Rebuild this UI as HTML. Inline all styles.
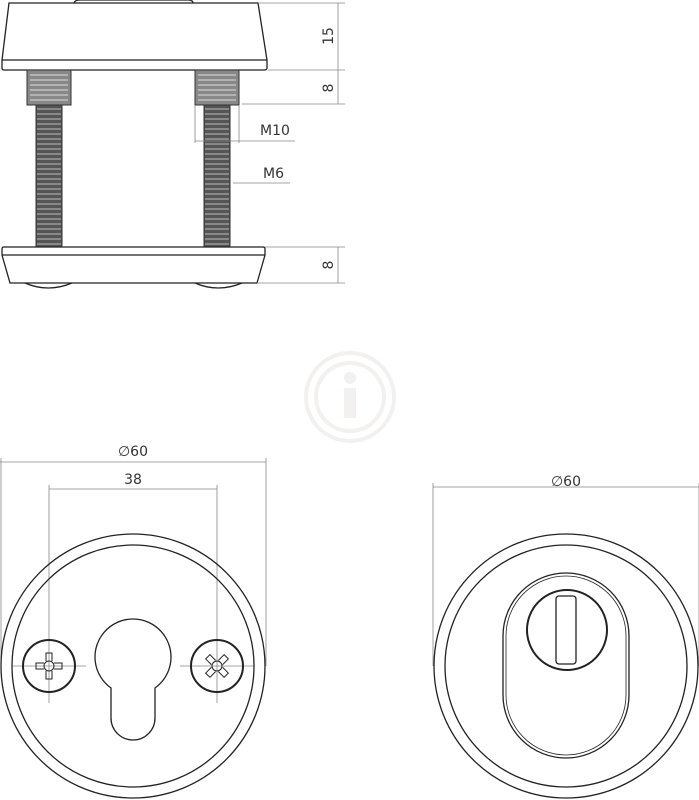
<!DOCTYPE html>
<html><head><style>body{margin:0;background:#fff}svg{display:block}text{font-family:"DejaVu Sans","Liberation Sans",sans-serif;fill:#333;stroke:none;font-size:14px}</style></head><body>
<svg width="699" height="800" viewBox="0 0 699 800" xmlns="http://www.w3.org/2000/svg" fill="none" stroke="#222" stroke-width="1.3">
<!-- watermark -->
<g stroke="#f3f0f0" stroke-width="4"><circle cx="350" cy="397" r="44"/><circle cx="350" cy="397" r="34"/></g>
<g fill="#f3f0f0" stroke="none"><circle cx="350" cy="378" r="6"/><rect x="344" y="388" width="12" height="30"/></g>
<!-- top plate -->
<path d="M74,3 Q75,0 80,0 L188,0 Q193,0 193,3"/>
<path d="M9,3 L258,3 L267,60 L267,68 Q267,70 264,70 L4,70 Q2,70 2,68 L2,60 Z"/>
<line x1="2" y1="60" x2="267" y2="60"/>
<!-- threads -->
<g stroke="#333" stroke-width="1">
<rect x="27" y="70" width="44" height="35" fill="#888"/><rect x="195" y="70" width="44" height="35" fill="#888"/>
<rect x="36" y="105" width="26" height="142" fill="#555"/><rect x="204" y="105" width="26" height="142" fill="#555"/>
</g>
<g stroke="#ddd" stroke-width="1">
<path d="M30,75H68M30,80H68M30,85H68M30,90H68M30,95H68M30,100H68M198,75H236M198,80H236M198,85H236M198,90H236M198,95H236M198,100H236"/>
</g>
<g stroke="#bbb" stroke-width="1">
<path d="M37,109H61M37,114H61M37,119H61M37,124H61M37,129H61M37,134H61M37,139H61M37,144H61M37,149H61M37,154H61M37,159H61M37,164H61M37,169H61M37,174H61M37,179H61M37,184H61M37,189H61M37,194H61M37,199H61M37,204H61M37,209H61M37,214H61M37,219H61M37,224H61M37,229H61M37,234H61M37,239H61M37,244H61"/>
<path d="M205,109H229M205,114H229M205,119H229M205,124H229M205,129H229M205,134H229M205,139H229M205,144H229M205,149H229M205,154H229M205,159H229M205,164H229M205,169H229M205,174H229M205,179H229M205,184H229M205,189H229M205,194H229M205,199H229M205,204H229M205,209H229M205,214H229M205,219H229M205,224H229M205,229H229M205,234H229M205,239H229M205,244H229"/>
</g>
<!-- bottom plate -->
<path d="M4,247 L263,247 Q265,247 265,249 L265,255 L257,283 L10,283 L2,255 L2,249 Q2,247 4,247 Z"/>
<line x1="2" y1="255" x2="265" y2="255"/>
<path d="M25,283 Q48,293 72,283 M195,283 Q218,293 242,283"/>
<!-- dims top -->
<g stroke="#888" stroke-width="0.8">
<path d="M338,3V104M258,3H345M268,70H345M242,104H345"/>
<path d="M338,247V283M265,247H345M257,283H345"/>
<path d="M195,105V143M239,105V143M195,141H295"/>
<path d="M233,183H290"/>
</g>
<text transform="translate(333,36) rotate(-90)" text-anchor="middle">15</text>
<text transform="translate(333,88) rotate(-90)" text-anchor="middle">8</text>
<text transform="translate(333,265) rotate(-90)" text-anchor="middle">8</text>
<text x="260" y="135">M10</text>
<text x="263" y="178">M6</text>
<!-- bottom-left view -->
<g stroke="#888" stroke-width="0.8">
<path d="M1,458V666M266,458V666M0,462H266"/>
<path d="M49,485V703M217,485V703M49,489H217"/>
<path d="M12,666H86M180,666H254"/>
</g>
<text x="133" y="456" text-anchor="middle">∅60</text>
<text x="133" y="484" text-anchor="middle">38</text>
<circle cx="133" cy="666" r="132"/>
<circle cx="133" cy="666" r="121"/>
<path d="M111,688 A38,38 0 1 1 155,688 L155,718 A22,22 0 0 1 111,718 Z"/>
<circle cx="49" cy="666" r="26" stroke-width="2"/>
<circle cx="217" cy="666" r="26" stroke-width="2"/>
<g stroke-width="1"><circle cx="49" cy="666" r="5"/><circle cx="217" cy="666" r="5"/>
<path d="M44,663H36V669H44M54,663H62V669H54M46,661V653H52V661M46,671V679H52V671"/>
<g transform="rotate(45 217 666)"><path d="M212,663H204V669H212M222,663H230V669H222M214,661V653H220V661M214,671V679H220V671"/></g></g>
<!-- bottom-right view -->
<g stroke="#888" stroke-width="0.8"><path d="M433,483V666M699,483V666M433,487H699"/></g>
<text x="566" y="486" text-anchor="middle">∅60</text>
<circle cx="566" cy="666" r="132"/>
<circle cx="566" cy="666" r="121"/>
<path d="M503,636 A63,63 0 0 1 629,636 L629,695 A63,63 0 0 1 503,695 Z"/>
<path d="M506,636 A60,60 0 0 1 626,636 L626,695 A60,60 0 0 1 506,695 Z" stroke-width="0.8"/>
<circle cx="567" cy="630" r="40" stroke-width="2"/>
<rect x="556" y="596" width="20" height="68" rx="3"/>
</svg>
</body></html>
